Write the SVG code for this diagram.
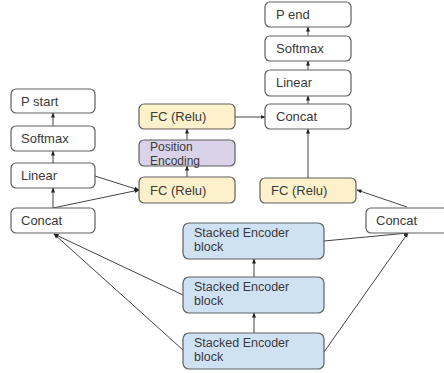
<svg xmlns="http://www.w3.org/2000/svg" width="444" height="373" viewBox="0 0 444 373">
<style>
.b{stroke:#5f5f5f;stroke-width:1.2}
.w{fill:#ffffff}
.y{fill:#fdf1cb}
.p{fill:#d9d2e9}
.u{fill:#cfe2f3}
text{font-family:"Liberation Sans",Arial,sans-serif;font-size:13px;fill:#3a3a3a}
.s{font-size:12.5px}
.t{font-size:12px}
.c{stroke:#444;stroke-width:1;fill:none;marker-end:url(#a)}
</style>
<defs>
<marker id="a" viewBox="0 0 10 10" refX="9" refY="5" markerWidth="5" markerHeight="5" orient="auto-start-reverse" markerUnits="userSpaceOnUse">
<path d="M0,1 L10,5 L0,9 z" fill="#222"/>
</marker>
</defs>
<rect width="444" height="373" fill="#ffffff"/>
<g id="connectors">
<line class="c" x1="53" y1="126" x2="53" y2="113"/>
<line class="c" x1="53" y1="163" x2="53" y2="151"/>
<line class="c" x1="53" y1="208" x2="53" y2="188"/>
<line class="c" x1="95" y1="176" x2="139" y2="190"/>
<line class="c" x1="53" y1="208" x2="139" y2="190"/>
<line class="c" x1="187" y1="177" x2="187" y2="166"/>
<line class="c" x1="187" y1="140" x2="187" y2="129"/>
<line class="c" x1="235" y1="117" x2="265" y2="117"/>
<line class="c" x1="308" y1="178" x2="308" y2="129"/>
<line class="c" x1="308" y1="104" x2="308" y2="96"/>
<line class="c" x1="308" y1="70" x2="308" y2="61"/>
<line class="c" x1="308" y1="36" x2="308" y2="27"/>
<line class="c" x1="407" y1="207" x2="357" y2="190"/>
<line class="c" x1="324" y1="241" x2="408" y2="233"/>
<line class="c" x1="324" y1="352" x2="408" y2="233"/>
<line class="c" x1="183" y1="295" x2="54" y2="234"/>
<line class="c" x1="183" y1="350" x2="54" y2="234"/>
<line class="c" x1="254" y1="333" x2="254" y2="313"/>
<line class="c" x1="254" y1="277" x2="254" y2="259"/>
</g>
<g id="pstart"><rect class="b w" x="11" y="89" width="84" height="24" rx="5"/><text x="21" y="106">P start</text></g>
<g id="softmax1"><rect class="b w" x="11" y="126" width="84" height="25" rx="5"/><text x="21" y="143">Softmax</text></g>
<g id="linear1"><rect class="b w" x="11" y="163" width="84" height="25" rx="5"/><text x="21" y="180">Linear</text></g>
<g id="concat1"><rect class="b w" x="11" y="208" width="84" height="25" rx="5"/><text x="21" y="225">Concat</text></g>
<g id="fc_top"><rect class="b y" x="139" y="104" width="96" height="25" rx="5"/><text x="150" y="121">FC (Relu)</text></g>
<g id="posenc"><rect class="b p" x="139" y="140" width="96" height="26" rx="5"/><text class="t" x="150" y="151">Position</text><text class="t" x="150" y="164.5">Encoding</text></g>
<g id="fc_bot"><rect class="b y" x="139" y="177" width="96" height="26" rx="5"/><text x="150" y="195">FC (Relu)</text></g>
<g id="pend"><rect class="b w" x="265" y="2" width="86" height="25" rx="5"/><text x="276" y="19">P end</text></g>
<g id="softmax2"><rect class="b w" x="265" y="36" width="86" height="25" rx="5"/><text x="276" y="53">Softmax</text></g>
<g id="linear2"><rect class="b w" x="265" y="70" width="86" height="26" rx="5"/><text x="276" y="87">Linear</text></g>
<g id="concat2"><rect class="b w" x="265" y="104" width="86" height="25" rx="5"/><text x="276" y="121">Concat</text></g>
<g id="fc_right"><rect class="b y" x="260" y="178" width="96" height="25" rx="5"/><text x="271" y="195">FC (Relu)</text></g>
<g id="concat3"><rect class="b w" x="366" y="208" width="84" height="25" rx="5"/><text x="376" y="225">Concat</text></g>
<g id="enc1"><rect class="b u" x="183" y="223" width="141" height="36" rx="6"/><text class="s" x="194" y="237">Stacked Encoder</text><text class="s" x="194" y="251">block</text></g>
<g id="enc2"><rect class="b u" x="183" y="277" width="141" height="36" rx="6"/><text class="s" x="194" y="291">Stacked Encoder</text><text class="s" x="194" y="305">block</text></g>
<g id="enc3"><rect class="b u" x="183" y="333" width="141" height="36" rx="6"/><text class="s" x="194" y="347">Stacked Encoder</text><text class="s" x="194" y="361">block</text></g>
</svg>
